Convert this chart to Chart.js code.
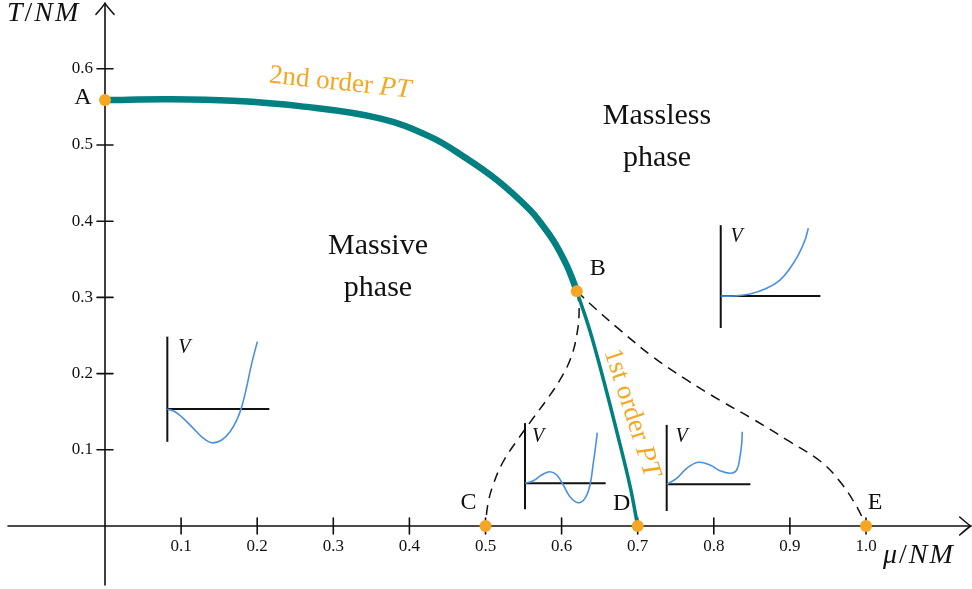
<!DOCTYPE html>
<html>
<head>
<meta charset="utf-8">
<script src="https://cdn.jsdelivr.net/npm/chart.js@4"></script>
<style>
  html, body { margin: 0; padding: 0; background: #fff; }
  #phase { display: block; }
</style>
</head>
<body>
<canvas id="phase" width="972" height="589"></canvas>
<script>
// phase boundaries, points are (mu/NM, T/NM)
const secondOrder = [[0, 0.559], [0.085, 0.560], [0.168, 0.558], [0.256, 0.551], [0.361, 0.535],
  [0.427, 0.511], [0.471, 0.485], [0.515, 0.454], [0.5585, 0.4147], [0.5756, 0.3937], [0.5887, 0.3753],
  [0.5992, 0.3570], [0.6071, 0.3412], [0.6137, 0.3255], [0.620, 0.308]];
const firstOrder = [[0.620, 0.308], [0.637, 0.257], [0.655, 0.192], [0.672, 0.126], [0.690, 0.052], [0.700, 0]];
const lowerSpinodal = [[0.621, 0.308], [0.623, 0.281], [0.620, 0.251], [0.612, 0.220], [0.598, 0.192],
  [0.580, 0.165], [0.563, 0.142], [0.542, 0.113], [0.523, 0.084], [0.510, 0.054], [0.503, 0.028], [0.500, 0]];
const upperSpinodal = [[0.620, 0.308], [0.637, 0.292], [0.677, 0.257], [0.720, 0.222], [0.764, 0.192],
  [0.808, 0.165], [0.852, 0.140], [0.896, 0.113], [0.940, 0.085], [0.966, 0.058], [0.988, 0.025], [1.000, 0]];

const pointNames = ['A', 'B', 'C', 'D', 'E'];
const pointMu = [0, 0.620, 0.5, 0.7, 1.0];
const pointT = [0.559, 0.308, 0, 0, 0];

const xTicks = [0.1, 0.2, 0.3, 0.4, 0.5, 0.6, 0.7, 0.8, 0.9, 1.0];
const xTickLabels = ['0.1', '0.2', '0.3', '0.4', '0.5', '0.6', '0.7', '0.8', '0.9', '1.0'];
const yTicks = [0.1, 0.2, 0.3, 0.4, 0.5, 0.6];
const yTickLabels = ['0.1', '0.2', '0.3', '0.4', '0.5', '0.6'];

// sketched potentials V(phi), offsets from the origin of each little inset
const potMassive = [[0, 0], [0.0101, -0.0035], [0.0210, -0.0122], [0.0342, -0.0254], [0.0452, -0.0364],
  [0.0583, -0.0443], [0.0715, -0.0407], [0.0824, -0.0298], [0.0912, -0.0145], [0.0978, 0.0030],
  [0.1043, 0.0293], [0.1109, 0.0600], [0.1183, 0.0884]];
const potMassless = [[0, 0], [0.0166, 0], [0.0385, 0.0026], [0.0604, 0.0101], [0.0779, 0.0210],
  [0.0911, 0.0364], [0.1020, 0.0539], [0.1108, 0.0736], [0.1151, 0.0890]];
const potMetaLow = [[0, 0], [0.0109, 0.0034], [0.0219, 0.0109], [0.0329, 0.0152], [0.0417, 0.0109],
  [0.0503, -0.0022], [0.0591, -0.0176], [0.0700, -0.0255], [0.0788, -0.0197], [0.0854, -0.0022],
  [0.0897, 0.0263], [0.0933, 0.0526], [0.0950, 0.0665]];
const potMetaHigh = [[0, 0], [0.0131, 0.0079], [0.0263, 0.0210], [0.0415, 0.0289], [0.0569, 0.0254],
  [0.0700, 0.0179], [0.0832, 0.0145], [0.0920, 0.0188], [0.0963, 0.0363], [0.0986, 0.0539], [0.0993, 0.0691]];

const ORANGE = '#f5a623';
const TEAL = '#008080';
const BLUE = '#4a90e2';
const INK = '#111';
const SERIF = '"Liberation Serif", "DejaVu Serif", serif';

// where each inset sits in the (mu, T) plane
const insets = [
  { curve: potMassive, origin: [0.0819, 0.1535], up: 0.095, down: 0.043, right: 0.134 },
  { curve: potMassless, origin: [0.8091, 0.3018], up: 0.093, down: 0.042, right: 0.131 },
  { curve: potMetaLow, origin: [0.5519, 0.0560], up: 0.079, down: 0.034, right: 0.106 },
  { curve: potMetaHigh, origin: [0.7381, 0.0547], up: 0.078, down: 0.035, right: 0.110 }
];

const xy = arr => arr.map(p => ({ x: p[0], y: p[1] }));

const datasets = [];
datasets.push({ data: pointMu.map((m, i) => ({ x: m, y: pointT[i] })), showLine: false,
  pointRadius: 6, pointBackgroundColor: ORANGE, pointBorderWidth: 0, order: 0 });
datasets.push({ data: xy(secondOrder), showLine: true, borderColor: TEAL, borderWidth: 6.5,
  pointRadius: 0, tension: 0.4, order: 1 });
datasets.push({ data: xy(firstOrder), showLine: true, borderColor: TEAL, borderWidth: 3.5,
  pointRadius: 0, tension: 0.4, order: 1 });
datasets.push({ data: xy(lowerSpinodal), showLine: true, borderColor: INK, borderWidth: 1.5,
  borderDash: [10, 7], pointRadius: 0, tension: 0.4, order: 2 });
datasets.push({ data: xy(upperSpinodal), showLine: true, borderColor: INK, borderWidth: 1.5,
  borderDash: [10, 7], pointRadius: 0, tension: 0.4, order: 2 });

insets.forEach(ins => {
  const [ox, oy] = ins.origin;
  datasets.push({ data: [{ x: ox, y: oy - ins.down }, { x: ox, y: oy + ins.up }], showLine: true,
    borderColor: INK, borderWidth: 2, pointRadius: 0, order: 4 });
  datasets.push({ data: [{ x: ox, y: oy }, { x: ox + ins.right, y: oy }], showLine: true,
    borderColor: INK, borderWidth: 2, pointRadius: 0, order: 4 });
  datasets.push({ data: ins.curve.map(p => ({ x: ox + p[0], y: oy + p[1] })), showLine: true,
    borderColor: BLUE, borderWidth: 1.6, pointRadius: 0, tension: 0.4, order: 3 });
});

// draws a run of [text, italic] pieces starting at x
function richText(ctx, parts, x, y, size, align, spacing) {
  ctx.letterSpacing = (spacing || 0) + 'px';
  const fonts = parts.map(p => (p[1] ? 'italic ' : '') + size + 'px ' + SERIF);
  let total = 0;
  const widths = parts.map((p, i) => { ctx.font = fonts[i]; const w = ctx.measureText(p[0]).width; total += w; return w; });
  let cx = align === 'center' ? x - total / 2 : align === 'right' ? x - total : x;
  ctx.textAlign = 'left';
  parts.forEach((p, i) => { ctx.font = fonts[i]; ctx.fillText(p[0], cx, y); cx += widths[i]; });
  ctx.letterSpacing = '0px';
}

function arrowHead(ctx, tx, ty, dir) {
  // dir: unit vector the arrow points along
  const [dx, dy] = dir, nx = -dy, ny = dx;
  const back = 11, spread = 9;
  ctx.beginPath();
  ctx.moveTo(tx - dx * back + nx * spread, ty - dy * back + ny * spread);
  ctx.quadraticCurveTo(tx - dx * 3 + nx * 2, ty - dy * 3 + ny * 2, tx, ty);
  ctx.quadraticCurveTo(tx - dx * 3 - nx * 2, ty - dy * 3 - ny * 2, tx - dx * back - nx * spread, ty - dy * back - ny * spread);
  ctx.stroke();
}

const axesPlugin = {
  id: 'phaseAxes',
  beforeDatasetsDraw(chart) {
    const { ctx, scales: { x, y } } = chart;
    const x0 = x.getPixelForValue(0), y0 = y.getPixelForValue(0);
    const xl = x.getPixelForValue(-0.1275), xr = x.getPixelForValue(1.1376);
    const yb = y.getPixelForValue(-0.0774), yt = y.getPixelForValue(0.6859);
    ctx.save();
    ctx.strokeStyle = INK;
    ctx.lineWidth = 1.6;
    ctx.lineCap = 'round';
    ctx.beginPath();
    ctx.moveTo(xl, y0); ctx.lineTo(xr, y0);
    ctx.moveTo(x0, yb); ctx.lineTo(x0, yt);
    xTicks.forEach(v => { const px = x.getPixelForValue(v); ctx.moveTo(px, y0 - 8); ctx.lineTo(px, y0 + 8); });
    yTicks.forEach(v => { const py = y.getPixelForValue(v); ctx.moveTo(x0 - 8, py); ctx.lineTo(x0 + 8, py); });
    ctx.stroke();
    arrowHead(ctx, xr, y0, [1, 0]);
    arrowHead(ctx, x0, yt, [0, -1]);

    ctx.fillStyle = INK;
    ctx.font = '17px ' + SERIF;
    ctx.textBaseline = 'middle';
    ctx.textAlign = 'center';
    xTicks.forEach((v, i) => ctx.fillText(xTickLabels[i], x.getPixelForValue(v), y0 + 21));
    ctx.textAlign = 'right';
    yTicks.forEach((v, i) => ctx.fillText(yTickLabels[i], x0 - 12, y.getPixelForValue(v)));

    ctx.textBaseline = 'alphabetic';
    richText(ctx, [['T', true], ['/', false], ['NM', true]], x0 - 98, 21, 28, 'left', 2);
    richText(ctx, [['\u03bc', true], ['/', false], ['NM', true]], 883, 563, 28, 'left', 2);
    ctx.restore();
  },
  afterDatasetsDraw(chart) {
    const { ctx, scales: { x, y } } = chart;
    const px = v => x.getPixelForValue(v), py = v => y.getPixelForValue(v);
    ctx.save();
    ctx.fillStyle = INK;
    ctx.textBaseline = 'middle';
    ctx.textAlign = 'center';

    // point labels
    const labelOffsets = [[-22, -2], [21, -23], [-17, -23], [-16, -22], [9, -23]];
    ctx.font = '24px ' + SERIF;
    pointNames.forEach((n, i) => ctx.fillText(n, px(pointMu[i]) + labelOffsets[i][0], py(pointT[i]) + labelOffsets[i][1]));

    // phase names
    ctx.font = '30px ' + SERIF;
    ctx.fillText('Massive', px(0.3587), py(0.340) - 21);
    ctx.fillText('phase', px(0.3587), py(0.340) + 21);
    ctx.fillText('Massless', px(0.7254), py(0.5098) - 21);
    ctx.fillText('phase', px(0.7254), py(0.5098) + 21);

    // V labels on the insets
    ctx.font = 'italic 20px ' + SERIF;
    const vOffsets = [[17, -61], [16, -59], [13, -47], [15, -48]];
    insets.forEach((ins, i) => ctx.fillText('V', px(ins.origin[0]) + vOffsets[i][0], py(ins.origin[1]) + vOffsets[i][1]));

    // transition labels
    ctx.fillStyle = ORANGE;
    const tags = [
      { text: '2nd order ', mu: 0.3088, t: 0.5814, rot: 6 },
      { text: '1st order ', mu: 0.692, t: 0.1483, rot: 72 }
    ];
    tags.forEach(tag => {
      ctx.save();
      ctx.translate(px(tag.mu), py(tag.t));
      ctx.rotate(tag.rot * Math.PI / 180);
      richText(ctx, [[tag.text, false], ['PT', true]], 0, 0, 27, 'center');
      ctx.restore();
    });
    ctx.restore();
  }
};

new Chart(document.getElementById('phase').getContext('2d'), {
  type: 'scatter',
  data: { datasets },
  options: {
    responsive: false,
    animation: false,
    layout: { padding: 0, autoPadding: false },
    plugins: { legend: { display: false }, tooltip: { enabled: false } },
    scales: {
      x: { type: 'linear', min: -0.13798, max: 1.13929, display: false },
      y: { type: 'linear', min: -0.08268, max: 0.69029, display: false }
    }
  },
  plugins: [axesPlugin]
});
</script>
</body>
</html>
